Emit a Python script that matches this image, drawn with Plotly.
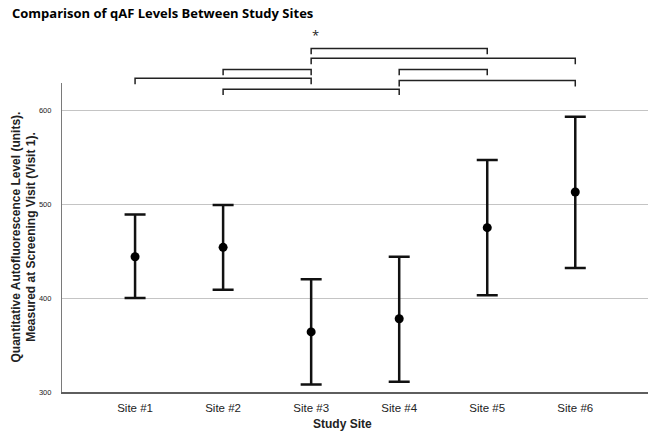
import plotly.graph_objects as go

# ---- data ----
sites = ["Site #1", "Site #2", "Site #3", "Site #4", "Site #5", "Site #6"]
means = [444, 454, 364, 378, 475, 513]
upper = [489, 499, 420, 444, 547, 593]
lower = [400, 409, 308, 311, 403, 432]
# significance brackets: (site index a, site index b, level in paper coords)
bracket_pairs = [(2, 4), (2, 5), (1, 2), (3, 4), (0, 2), (3, 5), (1, 3)]
bracket_levels = [1.112, 1.080, 1.044, 1.044, 1.015, 1.008, 0.980]
ytick_vals = [300, 400, 500, 600]

xs = list(range(len(sites)))
err_plus = [u - m for u, m in zip(upper, means)]
err_minus = [m - l for m, l in zip(means, lower)]

fig = go.Figure()
fig.add_trace(go.Scatter(
    x=xs, y=means, mode="markers",
    marker=dict(color="black", size=9),
    error_y=dict(type="data", symmetric=False, array=err_plus, arrayminus=err_minus,
                 color="#111111", thickness=2.5, width=10.5),
    showlegend=False, hoverinfo="skip", cliponaxis=False,
))

shapes = []
drop = 0.019
for (a, b), lv in zip(bracket_pairs, bracket_levels):
    shapes.append(dict(
        type="path", xref="x", yref="paper",
        path=f"M {a},{lv - drop} L {a},{lv} L {b},{lv} L {b},{lv - drop}",
        line=dict(color="#222222", width=1.5),
    ))

fig.update_layout(
    width=650, height=440,
    margin=dict(l=62, r=2, t=83, b=48, autoexpand=False),
    plot_bgcolor="white", paper_bgcolor="white",
    shapes=shapes,
    title=dict(text="<b>Comparison of qAF Levels Between Study Sites</b>",
               x=12 / 650, xanchor="left", xref="container",
               y=1 - 13 / 440, yanchor="middle", yref="container",
               font=dict(family="Open Sans", size=13, color="black")),
    xaxis=dict(range=[-0.83, 5.826], tickvals=xs, ticktext=sites,
               showgrid=False, zeroline=False, showline=True, linecolor="#5e5e5e",
               linewidth=1.5, ticks="", ticklabelstandoff=4, automargin=False,
               tickfont=dict(family="Liberation Sans", size=11.5, color="#222")),
    yaxis=dict(range=[300, 629], tickvals=ytick_vals,
               showgrid=True, gridcolor="#c4c4c4", gridwidth=1,
               zeroline=False, showline=True, linecolor="#7a7a7a", linewidth=1.2,
               ticks="", ticklabelstandoff=8, automargin=False,
               tickfont=dict(family="Liberation Sans", size=7.5, color="#222")),
    annotations=[
        dict(text="<b>Quantitative Autofluorescence Level (units).<br>Measured at Screening Visit (Visit 1).</b>",
             xref="paper", yref="paper", x=(23 - 62) / 586, y=0.5,
             xanchor="center", yanchor="middle", textangle=-90, showarrow=False,
             font=dict(family="Liberation Sans", size=12, color="#222")),
        dict(text="<b>Study Site</b>", xref="paper", yref="paper",
             x=(342 - 62) / 586, y=-(424 - 392) / 309, xanchor="center", yanchor="middle",
             showarrow=False, font=dict(family="Liberation Sans", size=12, color="#222")),
        dict(text="*", xref="x", yref="paper", x=2.05, y=(392 - 35) / 309,
             xanchor="center", yanchor="middle", showarrow=False,
             font=dict(family="Open Sans", size=13, color="#222")),
    ],
)

fig.write_html("out.html", config={"displayModeBar": False},
               post_script="document.body.style.margin='0';")
